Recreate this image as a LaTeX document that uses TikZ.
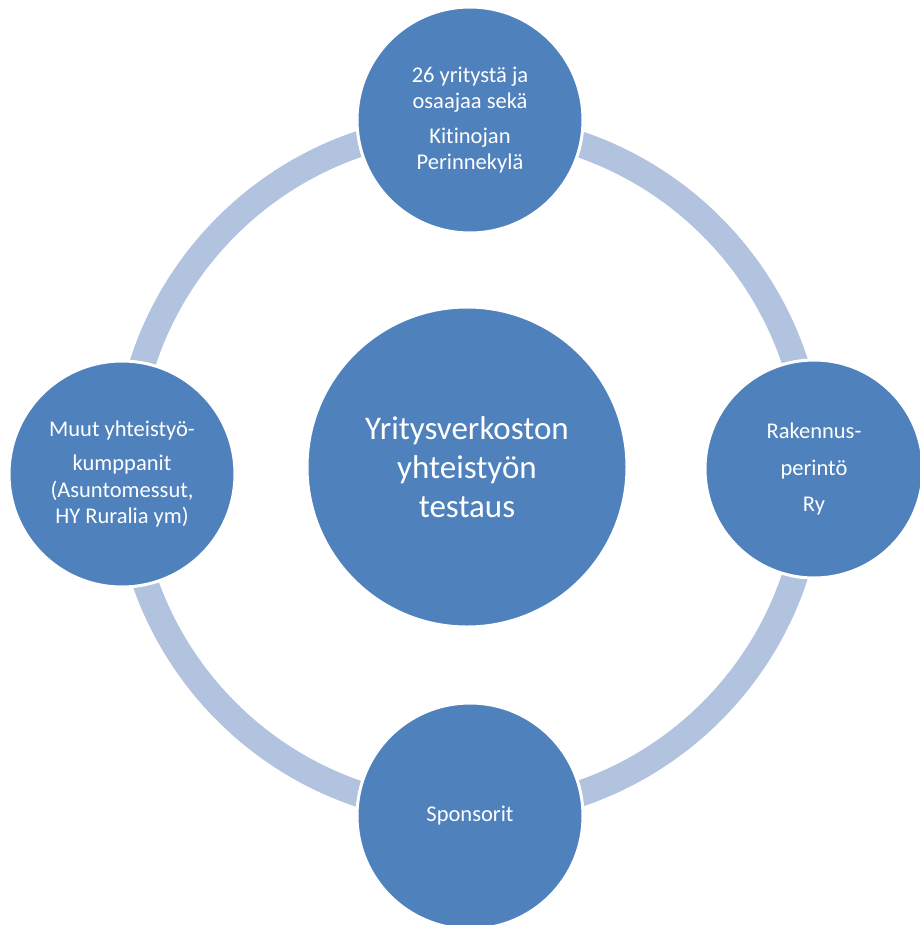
\documentclass[tikz,border=0pt]{standalone}
\usepackage{fontspec}
\setmainfont{Carlito}[Ligatures=NoCommon]
\definecolor{nodeblue}{HTML}{4F81BD}
\definecolor{ringblue}{HTML}{B2C3DF}
\begin{document}
\begin{tikzpicture}[x=1bp,y=-1bp,
  bubble/.style={circle, fill=nodeblue, draw=white, line width=3bp, inner sep=0pt,
    text=white, align=center, minimum size=#1},
  smalltext/.style={font=\fontsize{22.5bp}{26.5bp}\selectfont},
  bigtext/.style={font=\fontsize{33bp}{39bp}\selectfont}]
\useasboundingbox (0,0) rectangle (920,925);
\clip (0,0) rectangle (920,925);
\fill[white] (0,0) rectangle (920,925);
\draw[ringblue, line width=26bp] (469,469) circle[radius=343];
\node[bubble=320bp, bigtext] (center) at (467,467) {Yritysverkoston\\yhteistyön\\testaus};
\node[bubble=226bp, smalltext] (top) at (470,120) {26 yritystä ja\\osaajaa sekä\\[8bp]Kitinojan\\Perinnekylä};
\node[bubble=226bp, smalltext] (left) at (122,474) {Muut yhteistyö-\\[8bp]kumppanit\\(Asuntomessut,\\HY Ruralia ym)};
\node[bubble=218bp, smalltext] (right) at (814,469) {Rakennus-\\[10bp]perintö\\[10bp]Ry};
\node[bubble=226bp, smalltext] (bottom) at (470,816) {Sponsorit};
\end{tikzpicture}
\end{document}
